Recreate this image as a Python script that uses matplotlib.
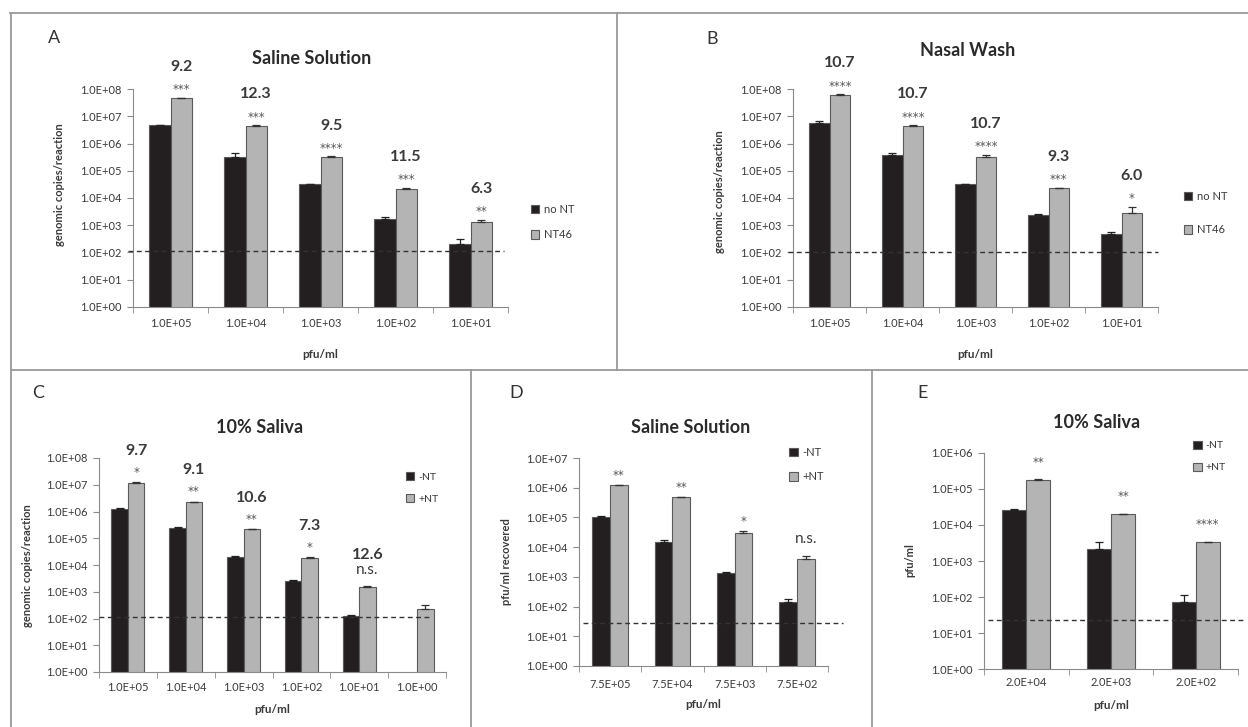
import numpy as np
import matplotlib.pyplot as plt
from matplotlib.lines import Line2D
from matplotlib.patches import Patch
from matplotlib.ticker import FixedLocator, FuncFormatter, NullFormatter

plt.rcParams['font.family'] = ['Lato', 'DejaVu Sans']

# ---- data ----
cats_a = ["1.0E+05", "1.0E+04", "1.0E+03", "1.0E+02", "1.0E+01"]
a_no = [4.8e6, 3.3e5, 3.2e4, 1.65e3, 205]
a_no_err = [2e5, 1.3e5, 2e3, 3e2, 100]
a_nt = [4.6e7, 4.5e6, 3.3e5, 2.1e4, 1.35e3]
a_nt_err = [3e6, 4e5, 1e4, 3e3, 2.5e2]
a_fold = ["9.2", "12.3", "9.5", "11.5", "6.3"]
a_sig = ["***", "***", "****", "***", "**"]

cats_b = ["1.0E+05", "1.0E+04", "1.0E+03", "1.0E+02", "1.0E+01"]
b_no = [5.9e6, 3.8e5, 3.2e4, 2.4e3, 480]
b_no_err = [1.1e6, 7e4, 1e3, 1e2, 60]
b_nt = [6.2e7, 4.5e6, 3.3e5, 2.3e4, 2.8e3]
b_nt_err = [3e6, 2e5, 5e4, 5e2, 1.9e3]
b_fold = ["10.7", "10.7", "10.7", "9.3", "6.0"]
b_sig = ["****", "****", "****", "***", "*"]

cats_c = ["1.0E+05", "1.0E+04", "1.0E+03", "1.0E+02", "1.0E+01", "1.0E+00"]
c_no = [1.25e6, 2.5e5, 2e4, 2.6e3, 125, 0]
c_no_err = [5e4, 1e4, 1e3, 1e2, 10, 0]
c_nt = [1.2e7, 2.3e6, 2.2e5, 1.9e4, 1.5e3, 235]
c_nt_err = [3e5, 5e4, 5e3, 5e2, 1e2, 85]
c_fold = ["9.7", "9.1", "10.6", "7.3", "12.6", ""]
c_sig = ["*", "**", "**", "*", "n.s.", ""]

cats_d = ["7.5E+05", "7.5E+04", "7.5E+03", "7.5E+02"]
d_no = [1e5, 1.45e4, 1.4e3, 145]
d_no_err = [1e4, 3e3, 1e2, 40]
d_nt = [1.2e6, 4.7e5, 2.9e4, 3.9e3]
d_nt_err = [5e4, 2e4, 6e3, 1.1e3]
d_sig = ["**", "**", "*", "n.s."]

cats_e = ["2.0E+04", "2.0E+03", "2.0E+02"]
e_no = [2.6e4, 2.1e3, 75]
e_no_err = [2e3, 1.3e3, 40]
e_nt = [1.8e5, 2e4, 3.4e3]
e_nt_err = [2e3, 5e2, 50]
e_sig = ["**", "**", "****"]

lod = {"A": 112, "B": 107, "C": 110, "D": 27, "E": 23}

W, H = 1248, 727
fig = plt.figure(figsize=(W / 100, H / 100), dpi=100)


def box(l, t, r, b):
    return [l / W, 1 - b / H, (r - l) / W, (b - t) / H]


def fline(x0, y0, x1, y1):
    fig.add_artist(Line2D([x0 / W, x1 / W], [1 - y0 / H, 1 - y1 / H],
                          color="#9a9a9a", lw=1.3, transform=fig.transFigure))


# panel frames
fline(10, 13, W, 13)
fline(11, 13, 11, H)
fline(617, 13, 617, 370)
fline(11, 370, W, 370)
fline(471, 370, 471, H)
fline(872, 370, 872, H)

BLACK = "#231f20"
GREY = "#b4b4b4"
EDGE = "#5a5a5a"
AXC = "#8a8a8a"
TXT = "#3a3a3a"
w = 0.285


def panel(rect, cats, s1, e1, s2, e2, ytop, ylab, ylab_xy, xlab_y, xpad, lodv, dash_x):
    ax = fig.add_axes(rect)
    n = len(cats)
    x = np.arange(n)
    s1 = np.array(s1, float)
    s2 = np.array(s2, float)
    m = s1 > 0
    ax.bar(x[m] - w / 2, s1[m], w, color=BLACK, edgecolor=EDGE, lw=0.8, zorder=2)
    ax.bar(x + w / 2, s2, w, color=GREY, edgecolor=EDGE, lw=0.8, zorder=2)
    ax.errorbar(x[m] - w / 2, s1[m], yerr=[np.zeros(m.sum()), np.array(e1)[m]],
                fmt="none", ecolor="#222", elinewidth=0.9, capsize=3, capthick=0.9, zorder=3)
    ax.errorbar(x + w / 2, s2, yerr=[np.zeros(n), e2],
                fmt="none", ecolor="#333", elinewidth=0.9, capsize=3, capthick=0.9, zorder=3)
    ax.set_yscale("log")
    ax.set_ylim(1, ytop)
    ax.set_xlim(-0.5, n - 0.5)
    dec = np.arange(0, int(round(np.log10(ytop))) + 1)
    ax.yaxis.set_major_locator(FixedLocator(10.0 ** dec))
    ax.yaxis.set_minor_locator(FixedLocator([]))
    ax.yaxis.set_major_formatter(FuncFormatter(lambda v, p: f"{v:.1E}"))
    ax.set_xticks(x)
    ax.set_xticklabels(cats)
    ax.xaxis.set_minor_locator(FixedLocator(np.arange(n + 1) - 0.5))
    ax.xaxis.set_minor_formatter(NullFormatter())
    ax.tick_params(axis="x", which="major", length=0, pad=xpad, labelsize=8, labelcolor=TXT)
    ax.tick_params(axis="x", which="minor", length=4, color=AXC, direction="out")
    ax.tick_params(axis="y", length=4, color=AXC, direction="out", pad=4,
                   labelsize=8, labelcolor=TXT)
    for s in ("top", "right"):
        ax.spines[s].set_visible(False)
    for s in ("left", "bottom"):
        ax.spines[s].set_color(AXC)
    ax.set_ylabel(ylab, fontsize=8, fontweight="bold", color=TXT)
    ax.yaxis.set_label_coords(*ylab_xy)
    ax.set_xlabel("pfu/ml", fontsize=8.5, fontweight="bold", color=TXT)
    ax.xaxis.set_label_coords(0.5, xlab_y)
    ax.xaxis.label.set_va("center")
    ax.plot(dash_x, [lodv, lodv], ls=(0, (3.5, 2.5)), color="#333", lw=1,
            transform=ax.get_yaxis_transform(), clip_on=False, zorder=4)
    return ax, x


def annotate(ax, x, s2, e2, sig, fold, soff, foff):
    tops = np.array(s2) + np.array(e2)
    for xi, t, sg, fd in zip(x, tops, sig, fold):
        if sg == "n.s.":
            ax.annotate(sg, (xi + w / 2, t), xytext=(0, soff + 2), textcoords="offset points",
                        ha="center", va="center", fontsize=11, color=TXT)
        elif sg:
            ax.annotate(sg, (xi + w / 2, t), xytext=(0, soff - 3), textcoords="offset points",
                        ha="center", va="center", fontsize=8.5, color="#555",
                        family="DejaVu Sans")
        if fd:
            ax.annotate(fd, (xi + w / 2, t), xytext=(0, soff + foff), textcoords="offset points",
                        ha="center", va="center", fontsize=11.5, fontweight="bold", color=TXT)


def legend(ax, labels, anchor, spacing, size):
    h = [Patch(facecolor=BLACK, edgecolor=EDGE, lw=0.8),
         Patch(facecolor=GREY, edgecolor=EDGE, lw=0.8)]
    ax.legend(h, labels, loc="center left", bbox_to_anchor=anchor, frameon=False,
              handlelength=0.8, handleheight=0.8, handletextpad=0.4, borderpad=0,
              borderaxespad=0, labelspacing=spacing, fontsize=size, labelcolor=TXT)


def title(xc, yc, text, letter, lx, ly):
    fig.text(xc / W, 1 - yc / H, text, ha="center", va="center", fontsize=13,
             fontweight="bold", color="#2a2a2a")
    fig.text(lx / W, 1 - ly / H, letter, ha="left", va="center", fontsize=13, color="#333")


# A
ax, x = panel(box(133, 89.3, 508, 306.7), cats_a, a_no, a_no_err, a_nt, a_nt_err, 1e8,
              "genomic copies/reaction", (-0.181, 0.56), -0.218, 8, lod["A"], [-0.013, 0.99])
annotate(ax, x, a_nt, a_nt_err, a_sig, a_fold, 8.6, 13.5)
legend(ax, ["no NT", "NT46"], (1.06, 0.39), 1.3, 8)
title(312, 58, "Saline Solution", "A", 48, 38)

# B
ax, x = panel(box(793, 89.3, 1158, 306.7), cats_b, b_no, b_no_err, b_nt, b_nt_err, 1e8,
              "genomic copies/reaction", (-0.186, 0.53), -0.218, 8, lod["B"], [-0.013, 1.0])
annotate(ax, x, b_nt, b_nt_err, b_sig, b_fold, 9, 13.5)
legend(ax, ["no NT", "NT46"], (1.07, 0.43), 2.0, 8)
title(968, 50, "Nasal Wash", "B", 706, 39)

# C
ax, x = panel(box(99, 458, 446, 672), cats_c, c_no, c_no_err, c_nt, c_nt_err, 1e8,
              "genomic copies/reaction", (-0.19, 0.495), -0.173, 7, lod["C"], [0.0, 0.96])
annotate(ax, x, c_nt, c_nt_err, c_sig, c_fold, 10, 12.5)
legend(ax, ["-NT", "+NT"], (0.884, 0.86), 1.2, 7.5)
title(260, 428, "10% Saliva", "C", 32, 393)

# D
ax, x = panel(box(579, 458, 828, 666), cats_d, d_no, d_no_err, d_nt, d_nt_err, 1e7,
              "pfu/ml recovered", (-0.27, 0.5), -0.1875, 9, lod["D"], [0.015, 1.06])
annotate(ax, x, d_nt, d_nt_err, d_sig, [""] * 4, 10, 0)
legend(ax, ["-NT", "+NT"], (0.845, 0.969), 1.2, 8)
title(691, 428, "Saline Solution", "D", 509, 393)

# E
ax, x = panel(box(984, 452.7, 1238, 669.3), cats_e, e_no, e_no_err, e_nt, e_nt_err, 1e6,
              "pfu/ml", (-0.27, 0.505), -0.165, 5.5, lod["E"], [0.015, 1.03])
annotate(ax, x, e_nt, e_nt_err, e_sig, [""] * 3, 15, 0)
legend(ax, ["-NT", "+NT"], (0.824, 0.982), 1.2, 7.5)
title(1097, 422, "10% Saliva", "E", 917, 393)

fig.savefig("out.png", dpi=100)
